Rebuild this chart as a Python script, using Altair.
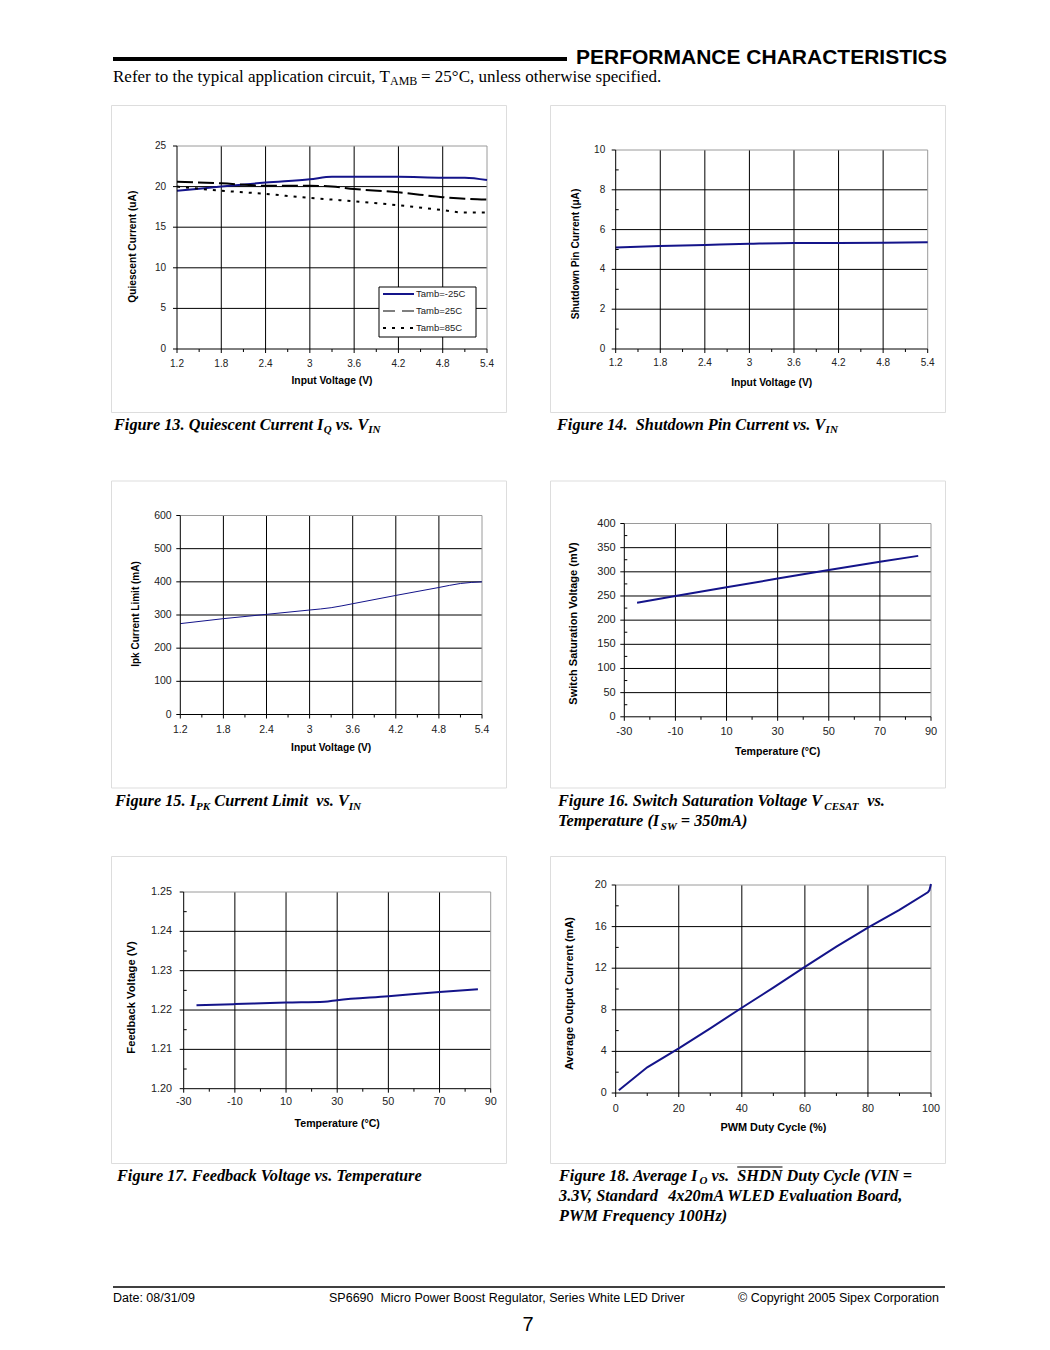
import altair as alt
import pandas as pd

# ---------------- data ----------------
# Figure 13: Quiescent current vs VIN
f13_vin = [1.2, 1.8, 2.4, 3.0, 3.3, 3.6, 4.2, 4.8, 5.1, 5.4]
f13_m25 = [19.5, 20.0, 20.5, 20.9, 21.2, 21.2, 21.2, 21.1, 21.1, 20.8]
f13_p25 = [20.6, 20.4, 20.1, 20.1, 20.0, 19.7, 19.3, 18.7, 18.5, 18.4]
f13_p85 = [20.0, 19.5, 19.1, 18.6, 18.4, 18.2, 17.7, 17.1, 16.8, 16.8]
f13_series = ["Tamb=-25C", "Tamb=25C", "Tamb=85C"]

# Figure 14: Shutdown pin current vs VIN
f14_vin = [1.2, 1.8, 2.4, 3.0, 3.6, 4.2, 4.8, 5.4]
f14_isd = [5.10, 5.17, 5.23, 5.29, 5.33, 5.33, 5.34, 5.36]

# Figure 15: Ipk current limit vs VIN
f15_vin = [1.2, 1.8, 2.4, 3.0, 3.3, 3.6, 4.2, 4.8, 5.1, 5.4]
f15_ipk = [274, 289, 302, 315, 322, 334, 359, 383, 395, 400]

# Figure 16: Switch saturation voltage vs temperature
f16_temp = [-25, -10, 10, 30, 50, 70, 85]
f16_vsat = [236, 250, 268, 286, 304, 321, 333]

# Figure 17: Feedback voltage vs temperature
f17_temp = [-25, -10, 10, 25, 30, 50, 70, 85]
f17_vfb = [1.2212, 1.2215, 1.2219, 1.2221, 1.2225, 1.2235, 1.2246, 1.2253]

# Figure 18: Average output current vs PWM duty cycle
f18_duty = [1, 10, 20, 30, 40, 50, 60, 70, 80, 90, 99, 99.5, 100]
f18_iout = [0.26, 2.47, 4.29, 6.22, 8.2, 10.13, 12.12, 14.07, 15.9, 17.6, 19.3, 19.5, 20.1]

# tick values / labels
vin_ticks = [1.2, 1.8, 2.4, 3.0, 3.6, 4.2, 4.8, 5.4]
vin_labels = ["1.2", "1.8", "2.4", "3", "3.6", "4.2", "4.8", "5.4"]
vin_minor = [1.5, 2.1, 2.7, 3.3, 3.9, 4.5, 5.1]
temp_ticks = [-30, -10, 10, 30, 50, 70, 90]
temp_labels = ["-30", "-10", "10", "30", "50", "70", "90"]
temp_minor = [-20, 0, 20, 40, 60, 80]
iq_ticks = [0, 5, 10, 15, 20, 25]
iq_labels = ["0", "5", "10", "15", "20", "25"]
isd_ticks = [0, 2, 4, 6, 8, 10]
isd_labels = ["0", "2", "4", "6", "8", "10"]
isd_minor = [1, 3, 5, 7, 9]
ipk_ticks = [0, 100, 200, 300, 400, 500, 600]
ipk_labels = ["0", "100", "200", "300", "400", "500", "600"]
vsat_ticks = [0, 50, 100, 150, 200, 250, 300, 350, 400]
vsat_labels = ["0", "50", "100", "150", "200", "250", "300", "350", "400"]
vsat_minor = [25, 75, 125, 175, 225, 275, 325, 375]
vfb_ticks = [1.20, 1.21, 1.22, 1.23, 1.24, 1.25]
vfb_labels = ["1.20", "1.21", "1.22", "1.23", "1.24", "1.25"]
vfb_minor = [1.205, 1.215, 1.225, 1.235, 1.245]
duty_ticks = [0, 20, 40, 60, 80, 100]
duty_labels = ["0", "20", "40", "60", "80", "100"]
duty_minor = [10, 30, 50, 70, 90]
io_ticks = [0, 4, 8, 12, 16, 20]
io_labels = ["0", "4", "8", "12", "16", "20"]
io_minor = [2, 6, 10, 14, 18]

# ---------------- styling helpers ----------------
SANS = "Liberation Sans"
SERIF = "Liberation Serif"
NAVY = "#14148a"
GRAY = "#9a9a9a"
LAB = "#222222"
FW, FH = 395, 307
CAP = 16.3
SUB = 11


def one():
    return pd.DataFrame({"d": [0]})


def txt(s, x, y, size, font=SANS, weight="normal", style="normal",
        align="left", baseline="alphabetic", angle=None, color="black"):
    kw = dict(font=font, fontSize=size, fontWeight=weight, fontStyle=style,
              align=align, baseline=baseline, color=color)
    if angle is not None:
        kw["angle"] = angle
    return alt.Chart(pd.DataFrame({"t": [s]})).mark_text(**kw).encode(
        x=alt.value(x), y=alt.value(y), text="t:N")


def hrule(x1, x2, y, w=1, color="black", dash=None):
    kw = dict(color=color, strokeWidth=w)
    if dash:
        kw["strokeDash"] = dash
    return alt.Chart(one()).mark_rule(**kw).encode(
        x=alt.value(x1), x2=alt.value(x2), y=alt.value(y))


def vrule(x, y1, y2, w=1, color="black"):
    return alt.Chart(one()).mark_rule(color=color, strokeWidth=w).encode(
        x=alt.value(x), y=alt.value(y1), y2=alt.value(y2))


def caption(segs, fx, fy):
    out = []
    for s, x, y, size in segs:
        out.append(txt(s, x - fx, y - fy, size, font=SERIF, weight="bold", style="italic"))
    return out


def panel(c, series, extras):
    xs = alt.Scale(domain=c["xdom"], range=c["xr"], nice=False, zero=False)
    ys = alt.Scale(domain=c["ydom"], range=c["yr"], nice=False, zero=False)
    x0, x1 = c["xr"]
    yb, yt = c["yr"]
    L = []
    # grid
    L.append(alt.Chart(pd.DataFrame({"v": c["xt"][1:-1]})).mark_rule(color="black", strokeWidth=1).encode(
        x=alt.X("v:Q", scale=xs, axis=None), y=alt.value(yt), y2=alt.value(yb)))
    L.append(alt.Chart(pd.DataFrame({"v": c["yt"][1:-1]})).mark_rule(color="black", strokeWidth=1).encode(
        y=alt.Y("v:Q", scale=ys, axis=None), x=alt.value(x0), x2=alt.value(x1)))
    L.append(hrule(x0, x1, yt, 1, GRAY))
    L.append(vrule(x1, yt, yb, 1, GRAY))
    # ticks
    L.append(alt.Chart(pd.DataFrame({"v": c["xt"]})).mark_rule(color="black").encode(
        x=alt.X("v:Q", scale=xs, axis=None), y=alt.value(yb), y2=alt.value(yb + 4)))
    if c.get("xm"):
        L.append(alt.Chart(pd.DataFrame({"v": c["xm"]})).mark_rule(color="black").encode(
            x=alt.X("v:Q", scale=xs, axis=None), y=alt.value(yb), y2=alt.value(yb + 3)))
    L.append(alt.Chart(pd.DataFrame({"v": c["yt"]})).mark_rule(color="black").encode(
        y=alt.Y("v:Q", scale=ys, axis=None), x=alt.value(x0 - 4), x2=alt.value(x0)))
    if c.get("ym"):
        L.append(alt.Chart(pd.DataFrame({"v": c["ym"]})).mark_rule(color="black").encode(
            y=alt.Y("v:Q", scale=ys, axis=None), x=alt.value(x0), x2=alt.value(x0 + 3)))
    # data lines
    for xv, yv, style in series:
        L.append(alt.Chart(pd.DataFrame({"x": xv, "y": yv})).mark_line(**style).encode(
            x=alt.X("x:Q", scale=xs, axis=None), y=alt.Y("y:Q", scale=ys, axis=None)))
    # axis lines
    L.append(vrule(x0, yt, yb))
    L.append(hrule(x0, x1, yb))
    # tick labels
    L.append(alt.Chart(pd.DataFrame({"v": c["xt"], "lab": c["xl"]})).mark_text(
        font=SANS, fontSize=c["ts"], align="center", baseline="middle", color=LAB).encode(
        x=alt.X("v:Q", scale=xs, axis=None), y=alt.value(yb + c["xld"]), text="lab:N"))
    L.append(alt.Chart(pd.DataFrame({"v": c["yt"], "lab": c["yl"]})).mark_text(
        font=SANS, fontSize=c["ts"], align="right", baseline="middle", color=LAB).encode(
        y=alt.Y("v:Q", scale=ys, axis=None), x=alt.value(x0 - c["yld"]), text="lab:N"))
    # axis titles
    L.append(txt(c["xtitle"], (x0 + x1) / 2, yb + c["xtd"], c["xts"], weight="bold",
                 align="center", baseline="middle"))
    L.append(txt(c["ytitle"], c["ytx"], c["ytc"], c["yts"], weight="bold",
                 align="center", baseline="middle", angle=270))
    L += extras
    return alt.layer(*L).properties(width=FW, height=FH)


# ---------------- Figure 13 ----------------
fx, fy = 111, 105
leg = [alt.Chart(one()).mark_rect(fill="white", stroke="black", strokeWidth=1).encode(
    x=alt.value(268), x2=alt.value(365), y=alt.value(182), y2=alt.value(232))]
leg_styles = [dict(color=NAVY, w=2, dash=None), dict(color="black", w=1.2, dash=[12, 7]),
              dict(color="black", w=2, dash=[3, 6])]
for i, name in enumerate(f13_series):
    yy = 189 + 17 * i
    st = leg_styles[i]
    leg.append(hrule(272, 303, yy, st["w"], st["color"], st["dash"]))
    leg.append(txt(name, 305, yy, 9.5, align="left", baseline="middle", color=LAB))
head = [
    alt.Chart(one()).mark_rect(color="white").encode(
        x=alt.value(-102), x2=alt.value(-101), y=alt.value(-96), y2=alt.value(-95)),
    hrule(113 - fx, 567 - fx, 59 - fy, 4),
    txt("PERFORMANCE CHARACTERISTICS", 947 - fx, 64 - fy, 21, weight="bold", align="right"),
    txt("Refer to the typical application circuit, T", 113 - fx, 82 - fy, 17, font=SERIF),
    txt("AMB", 390 - fx, 85 - fy, 12, font=SERIF),
    txt("= 25°C, unless otherwise specified.", 421 - fx, 82 - fy, 17, font=SERIF),
]
cap13 = caption([
    ("Figure 13. Quiescent Current I", 114, 429.5, CAP),
    ("Q", 323.7, 433, SUB),
    ("vs. V", 335.7, 429.5, CAP),
    ("IN", 368.3, 433, SUB),
], fx, fy)
p13 = panel(dict(xdom=[1.2, 5.4], xr=[66, 376], ydom=[0, 25], yr=[244, 41],
                 xt=vin_ticks, xl=vin_labels, xm=vin_minor, yt=iq_ticks, yl=iq_labels, ym=None,
                 ts=10, xts=10.3, yts=10.2,
                 xld=14.5, yld=11, xtd=32, xtitle="Input Voltage (V)",
                 ytitle="Quiescent Current (uA)", ytx=22.3, ytc=141.7),
            [(f13_vin, f13_m25, dict(color=NAVY, strokeWidth=2, interpolate="monotone")),
             (f13_vin, f13_p25, dict(color="black", strokeWidth=2, strokeDash=[16, 5], interpolate="monotone")),
             (f13_vin, f13_p85, dict(color="black", strokeWidth=2, strokeDash=[3, 6], interpolate="monotone"))],
            leg + head + cap13)

# ---------------- Figure 14 ----------------
fx, fy = 550, 105
cap14 = caption([
    ("Figure 14.", 557, 429.5, CAP),
    ("Shutdown Pin Current vs. V", 635.8, 429.5, CAP),
    ("IN", 825.6, 433, SUB),
], fx, fy)
p14 = panel(dict(xdom=[1.2, 5.4], xr=[65.7, 377.7], ydom=[0, 10], yr=[244, 45],
                 xt=vin_ticks, xl=vin_labels, xm=vin_minor, yt=isd_ticks, yl=isd_labels, ym=isd_minor,
                 ts=10, xts=10.3, yts=10.2,
                 xld=14.3, yld=10.5, xtd=34.3, xtitle="Input Voltage (V)",
                 ytitle="Shutdown Pin Current (μA)", ytx=26, ytc=149),
            [(f14_vin, f14_isd, dict(color=NAVY, strokeWidth=2, interpolate="monotone"))],
            cap14)

# ---------------- Figure 15 ----------------
fx, fy = 111, 481
cap15 = caption([
    ("Figure 15. I", 115, 806.5, CAP),
    ("PK", 196.1, 810, SUB),
    ("Current Limit", 214.3, 806.5, CAP),
    ("vs. V", 316.2, 806.5, CAP),
    ("IN", 348.8, 810, SUB),
], fx, fy)
p15 = panel(dict(xdom=[1.2, 5.4], xr=[69.3, 371], ydom=[0, 600], yr=[234, 35],
                 xt=vin_ticks, xl=vin_labels, xm=vin_minor, yt=ipk_ticks, yl=ipk_labels, ym=None,
                 ts=10.5, xts=10.2, yts=10,
                 xld=15, yld=8.6, xtd=33, xtitle="Input Voltage (V)",
                 ytitle="Ipk Current Limit (mA)", ytx=24.7, ytc=133.5),
            [(f15_vin, f15_ipk, dict(color=NAVY, strokeWidth=1, interpolate="monotone"))],
            cap15)

# ---------------- Figure 16 ----------------
fx, fy = 550, 481
cap16 = caption([
    ("Figure 16. Switch Saturation Voltage V", 558, 806.5, CAP),
    ("CESAT", 824.3, 810, SUB),
    ("vs.", 867.3, 806.5, CAP),
    ("Temperature (I", 558, 826.5, CAP),
    ("SW", 660.8, 830, SUB),
    ("= 350mA)", 680.8, 826.5, CAP),
], fx, fy)
p16 = panel(dict(xdom=[-30, 90], xr=[74.3, 381], ydom=[0, 400], yr=[236.3, 43],
                 xt=temp_ticks, xl=temp_labels, xm=temp_minor, yt=vsat_ticks, yl=vsat_labels, ym=vsat_minor,
                 ts=11, xts=10.6, yts=11,
                 xld=15, yld=8.6, xtd=35, xtitle="Temperature (°C)",
                 ytitle="Switch Saturation Voltage (mV)", ytx=24, ytc=143),
            [(f16_temp, f16_vsat, dict(color=NAVY, strokeWidth=2))],
            cap16)

# ---------------- Figure 17 ----------------
fx, fy = 111, 856
cap17 = caption([
    ("Figure 17. Feedback Voltage vs. Temperature", 117, 1180.5, CAP),
], fx, fy)
foot = [
    hrule(113 - fx, 945 - fx, 1287 - fy, 1.6),
    txt("Date: 08/31/09", 113 - fx, 1301.5 - fy, 12.5),
    txt("SP6690", 329 - fx, 1301.5 - fy, 12.5),
    txt("Micro Power Boost Regulator, Series White LED Driver", 380.4 - fx, 1301.5 - fy, 12.5),
    txt("© Copyright 2005 Sipex Corporation", 939 - fx, 1301.5 - fy, 12.5, align="right"),
    txt("7", 528 - fx, 1331 - fy, 20, align="center"),
]
p17 = panel(dict(xdom=[-30, 90], xr=[72.7, 379.7], ydom=[1.20, 1.25], yr=[232.7, 36],
                 xt=temp_ticks, xl=temp_labels, xm=temp_minor, yt=vfb_ticks, yl=vfb_labels, ym=vfb_minor,
                 ts=10.8, xts=10.6, yts=11.2,
                 xld=13.6, yld=11.7, xtd=35.3, xtitle="Temperature (°C)",
                 ytitle="Feedback Voltage (V)", ytx=21.3, ytc=141.5),
            [(f17_temp, f17_vfb, dict(color=NAVY, strokeWidth=2, interpolate="monotone"))],
            cap17 + foot)

# ---------------- Figure 18 ----------------
fx, fy = 550, 856
cap18 = caption([
    ("Figure 18. Average I", 559, 1180.5, CAP),
    ("O", 699.4, 1184, SUB),
    ("vs.", 711.4, 1180.5, CAP),
    ("SHDN", 737.2, 1180.5, CAP),
    ("Duty Cycle (VIN =", 786.6, 1180.5, CAP),
    ("3.3V, Standard", 559, 1200.5, CAP),
    ("4x20mA WLED Evaluation Board,", 668.2, 1200.5, CAP),
    ("PWM Frequency 100Hz)", 559, 1220.5, CAP),
], fx, fy) + [hrule(737.2 - fx, 782.5 - fx, 1167 - fy, 1.2)]
p18 = panel(dict(xdom=[0, 100], xr=[65.7, 381], ydom=[0, 20], yr=[237, 29],
                 xt=duty_ticks, xl=duty_labels, xm=duty_minor, yt=io_ticks, yl=io_labels, ym=io_minor,
                 ts=10.8, xts=10.9, yts=11,
                 xld=16, yld=9, xtd=34.7, xtitle="PWM Duty Cycle (%)",
                 ytitle="Average Output Current (mA)", ytx=20, ytc=137.5),
            [(f18_duty, f18_iout, dict(color=NAVY, strokeWidth=2))],
            cap18)

chart = alt.concat(p13, p14, p15, p16, p17, p18, columns=2,
                   spacing={"row": 68.5, "column": 44}, bounds="flush", padding=0
                   ).configure_view(stroke="black", strokeWidth=1).configure(background="white")

chart.save("out.html", embed_options={"renderer": "svg", "actions": False})
